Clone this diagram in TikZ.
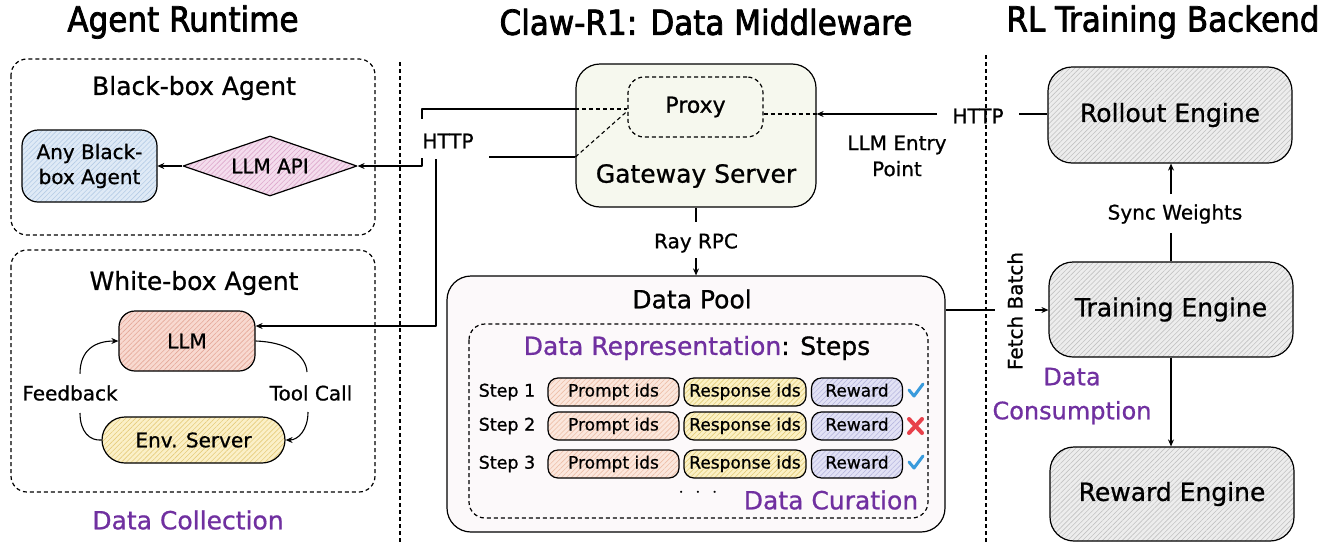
\documentclass[tikz,border=0pt]{standalone}
\usepackage{fontspec}
\setmainfont{DejaVu Sans}[UprightFeatures={RawFeature={embolden=0.8}}]
\newfontfamily\ttlfont{DejaVu Sans Condensed}[UprightFeatures={RawFeature={embolden=2.2}}]
\usetikzlibrary{shapes.geometric,arrows.meta,patterns.meta}
\definecolor{purp}{HTML}{7030A0}
\definecolor{anyF}{HTML}{DFEAF6}\definecolor{anyL}{HTML}{B5CCE6}
\definecolor{apiF}{HTML}{F4DDED}\definecolor{apiL}{HTML}{DDA8CC}
\definecolor{llmF}{HTML}{F8D9D0}\definecolor{llmL}{HTML}{E5A898}
\definecolor{envF}{HTML}{FBF0C8}\definecolor{envL}{HTML}{E6CC7C}
\definecolor{prF}{HTML}{FBE7DD}\definecolor{prL}{HTML}{EEBFA8}
\definecolor{rsF}{HTML}{FBF1C6}\definecolor{rsL}{HTML}{E4CD78}
\definecolor{rwF}{HTML}{E2E2F5}\definecolor{rwL}{HTML}{B8B8E0}
\definecolor{enF}{HTML}{EDEDED}\definecolor{enL}{HTML}{C2C2C2}
\definecolor{gwF}{HTML}{F6F8EE}\definecolor{poolF}{HTML}{FCF9FA}
\definecolor{chk}{HTML}{3A9BDC}\definecolor{crs}{HTML}{E8404A}
\tikzset{
  hatch/.style 2 args={preaction={fill=#1},pattern={Lines[angle=45,distance=3.5pt,line width=0.6pt]},pattern color=#2},
  bx/.style={draw,line width=1.2pt,inner sep=0pt,align=center},
  ln/.style={draw,line width=1.1pt},
  arr/.style={draw,line width=1.1pt,-{Stealth[length=7pt,width=6pt]}},
  dln/.style={draw,line width=1.1pt,dash pattern=on 4pt off 3pt},
  cont/.style={draw,line width=1.2pt,dash pattern=on 4pt off 3pt,rounded corners=16pt},
  ttl/.style={font=\ttlfont\fontsize{34.5}{38}\selectfont},
  fh/.style={font=\fontsize{25}{30}\selectfont},
  fm/.style={font=\fontsize{20}{25}\selectfont},
  fs/.style={font=\fontsize{17.5}{21}\selectfont},
  cell/.style={bx,rounded corners=10pt,minimum height=28pt,text height=12.5pt,text depth=3.5pt,font=\fontsize{17}{20}\selectfont},
  eng/.style={bx,rounded corners=24pt,minimum width=244pt,minimum height=95pt,hatch={enF}{enL},font=\fontsize{25}{30}\selectfont},
}
\begin{document}
\begin{tikzpicture}[x=1pt,y=-1pt,line join=round]
\useasboundingbox (0,0) rectangle (1335,544);
% titles
\node[ttl] (t1) at (183,22) {Agent Runtime};
\node[ttl] (t2) at (706,22) {Claw-R1: Data Middleware};
\node[ttl] (t3) at (1163,22) {RL Training Backend};
% separators
\coordinate (s1a) at (400,62); \coordinate (s1b) at (400,544);
\coordinate (s2a) at (986,55); \coordinate (s2b) at (986,544);
\draw[dln] (s1a) -- (s1b);
\draw[dln] (s2a) -- (s2b);
% ---------- Agent runtime
\draw[cont] (11,59) rectangle (375,235);
\node[fh] (bbt) at (194,88) {Black-box Agent};
\node[bx,rounded corners=16pt,minimum width=135pt,minimum height=72pt,hatch={anyF}{anyL},font=\fontsize{20}{25}\selectfont] (any) at (89.5,166) {Any Black-\\box Agent};
\node[bx,diamond,aspect=2.9,minimum width=174pt,minimum height=60pt,hatch={apiF}{apiL},font=\fontsize{20}{24}\selectfont] (api) at (270,166) {LLM API};
\draw[arr] (api.west) -- (any.east);

\draw[cont] (11,250) rectangle (375,492);
\node[fh] (wbt) at (194,283) {White-box Agent};
\node[bx,rounded corners=16pt,minimum width=136pt,minimum height=60pt,hatch={llmF}{llmL},font=\fontsize{20}{24}\selectfont] (wllm) at (187,341) {LLM};
\node[bx,rounded corners=23pt,minimum width=183pt,minimum height=46pt,hatch={envF}{envL},font=\fontsize{20}{24}\selectfont] (env) at (193.5,440) {Env. Server};
\node[fm] (fb) at (70,393) {Feedback};
\node[fm] (tc) at (311,393) {Tool Call};
\draw[arr] (fb.north -| 80,0) ++(0,-8) .. controls (80,350) and (95,341) .. (wllm.west);
\draw[ln] (80,413) .. controls (80,432) and (90,441) .. (env.west);
\draw[ln] (wllm.east) .. controls (287,342) and (306,355) .. (307,372);
\draw[arr] (308,412) .. controls (308,430) and (298,440) .. (env.east);
\node[fh,text=purp] (dcol) at (188,520) {Data Collection};
% ---------- middleware
\node[bx,rounded corners=24pt,minimum width=240pt,minimum height=143pt,fill=gwF] (gw) at (696,135.5) {};
\node[fh] (gwt) at (696,176) {Gateway Server};
\node[bx,dash pattern=on 4pt off 3pt,rounded corners=16pt,minimum width=135pt,minimum height=60pt,font=\fontsize{22}{26}\selectfont] (proxy) at (695.5,107) {Proxy};
\node[fm] (http1) at (448,141) {HTTP};
\coordinate (h1) at (422,109); \coordinate (h1b) at (422,119);
\coordinate (h1c) at (422,158); \coordinate (h1d) at (422,166);
\draw[ln] (gw.west |- h1) -- (h1) -- (h1b);
\draw[arr] (h1c) -- (h1d) -- (api.east);
\draw[dln] (gw.west |- h1) -- (proxy.west |- h1);
\coordinate (h2) at (489,157);
\draw[ln] (h2) -- (gw.west |- h2);
\draw[dln] (gw.west |- h2) -- ([yshift=-4pt]proxy.west);
\coordinate (h3) at (436,159); \coordinate (h3b) at (436,326);
\draw[arr] (h3) -- (h3b) -- (wllm.east |- h3b);
% right HTTP
\coordinate (r1) at (937,114);
\node[fm] (http2) at (978,116) {HTTP};
\node[fm,align=center] (entry) at (897,156) {LLM Entry\\[1pt]Point};
\draw[dln] (proxy.east |- r1) -- (gw.east |- r1);
\draw[arr] (r1) -- (gw.east |- r1);
% Ray RPC
\node[fm] (ray) at (696,243) {Ray RPC};
\coordinate (ray1) at (696,222); \coordinate (ray2) at (696,258);
\draw[ln] (gw.south) -- (ray1);
% data pool
\node[bx,rounded corners=24pt,minimum width=498pt,minimum height=256pt,fill=poolF] (pool) at (696,404) {};
\draw[arr] (ray2) -- (pool.north);
\node[fh] (dpt) at (692,299) {Data Pool};
\draw[cont] (469,324) rectangle (928,518);
\node[fh] (drep) at (697,348) {\textcolor{purp}{Data Representation}: Steps};
\foreach \i/\yy in {1/392,2/426,3/464}{
  \node[fs] (st\i) at (507,\yy) {Step \i};
  \node[cell,minimum width=131pt,hatch={prF}{prL}] (pr\i) at (613.5,\yy) {Prompt ids};
  \node[cell,minimum width=122pt,hatch={rsF}{rsL}] (rs\i) at (745,\yy) {Response ids};
  \node[cell,minimum width=91pt,hatch={rwF}{rwL}] (rw\i) at (857,\yy) {Reward};
}
\draw[chk,line width=3pt,line cap=round] (909,390) -- (914,396) -- (923,384);
\draw[chk,line width=3pt,line cap=round] (909,462) -- (914,468) -- (923,456);
\draw[crs,line width=4pt,line cap=round] (909,419) -- (922,433);
\draw[crs,line width=4pt,line cap=round] (909,433) -- (922,419);
\node[fm] (dots) at (698,493) {$\cdot\ \cdot\ \cdot$};
\node[fh,text=purp] (dcur) at (831,500) {Data Curation};
% ---------- backend
\node[eng,minimum height=96pt] (roll) at (1170,115) {Rollout Engine};
\node[eng] (train) at (1171,309.5) {Training Engine};
\node[eng,minimum height=94pt] (rew) at (1172,494) {Reward Engine};
\draw[ln] (r1 -| 1019,0) -- (roll.west |- r1);
\node[fm] (sync) at (1175,214) {Sync Weights};
\coordinate (sy1) at (1171,233); \coordinate (sy2) at (1171,194);
\draw[ln] (train.north) -- (sy1);
\draw[arr] (sy2) -- (roll.south -| sy2);
\draw[arr] (train.south) -- (rew.north -| train.south);
\node[fm,rotate=90] (fetch) at (1015,311) {Fetch Batch};
\coordinate (f1) at (995,310); \coordinate (f2) at (1035,310);
\draw[ln] (pool.east |- f1) -- (f1);
\draw[arr] (f2) -- (train.west |- f2);
\node[font=\fontsize{24}{34}\selectfont,text=purp,align=center] (dcon) at (1072,396) {Data\\Consumption};
\end{tikzpicture}
\end{document}
